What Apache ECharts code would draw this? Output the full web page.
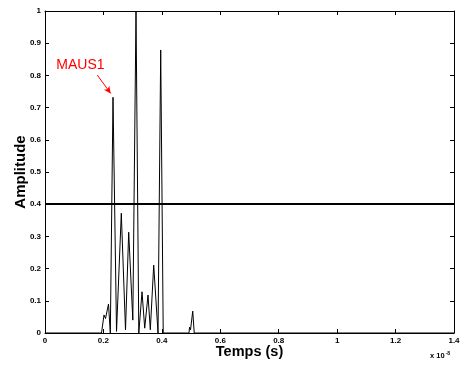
<!DOCTYPE html>
<html>
<head>
<meta charset="utf-8">
<script src="https://cdn.jsdelivr.net/npm/echarts@6/dist/echarts.min.js"></script>
<style>
html,body{margin:0;padding:0;background:#fff;}
#c{width:461px;height:367px;}
</style>
</head>
<body>
<div id="c"></div>
<script>
// time in units of 1e-8 s
var times = [0, 0.1934, 0.2020, 0.2071, 0.2174, 0.2236, 0.2328, 0.2448, 0.2612, 0.2756, 0.2865, 0.3006, 0.3115, 0.3211, 0.3321, 0.3413, 0.3526, 0.3605, 0.3721, 0.3869, 0.3961, 0.4047, 0.4930, 0.4947, 0.4981, 0.5057, 0.5108, 1.4];
var amplitude = [0, 0, 0.056, 0.045, 0.09, 0, 0.732, 0.005, 0.372, 0.01, 0.313, 0.04, 1.0, 0, 0.128, 0.015, 0.118, 0.01, 0.211, 0, 0.879, 0, 0, 0.018, 0.01, 0.068, 0, 0];
var xTicks = [0, 0.2, 0.4, 0.6, 0.8, 1, 1.2, 1.4];
var yTicks = [0, 0.1, 0.2, 0.3, 0.4, 0.5, 0.6, 0.7, 0.8, 0.9, 1];
var threshold = 0.4;
var annotationText = 'MAUS1';
var annotationLabelAt = [0.1212, 0.831];
var arrowFrom = [0.179, 0.801];
var arrowTo = [0.2249, 0.744];

var FONT = 'Liberation Sans, Arial, Helvetica, sans-serif';
var seriesData = times.map(function (t, i) { return [t, amplitude[i]]; });

var chart = echarts.init(document.getElementById('c'), null, {renderer: 'canvas'});
var axisCommon = {
  axisLine: {show: true, onZero: false, lineStyle: {color: '#000', width: 1}},
  axisTick: {show: true, inside: true, length: 4, lineStyle: {color: '#000', width: 1}},
  splitLine: {show: false}
};
chart.setOption({
  animation: false,
  backgroundColor: '#fff',
  grid: {left: 45, right: 7, top: 11, bottom: 34, containLabel: false, outerBoundsMode: 'none'},
  title: {
    text: '{b|x 10}{s|-8}',
    right: 6, top: 346,
    textStyle: {
      rich: {
        b: {fontFamily: FONT, fontWeight: 'bold', fontSize: 7.5, color: '#000'},
        s: {fontFamily: FONT, fontWeight: 'bold', fontSize: 5, color: '#000', verticalAlign: 'top', padding: [0, 0, 5, 1]}
      }
    }
  },
  xAxis: [
    Object.assign({}, axisCommon, {
      type: 'value', min: xTicks[0], max: xTicks[xTicks.length - 1], interval: 0.2,
      position: 'bottom',
      name: 'Temps (s)', nameLocation: 'middle', nameGap: 11, nameMoveOverlap: false,
      nameTextStyle: {fontFamily: FONT, fontWeight: 'bold', fontSize: 14.5, color: '#000'},
      axisLabel: {fontFamily: FONT, fontWeight: 'bold', fontSize: 8, color: '#000', margin: 4,
        formatter: function (v) { return String(+v.toFixed(1)); }}
    }),
    Object.assign({}, axisCommon, {
      type: 'value', min: xTicks[0], max: xTicks[xTicks.length - 1], interval: 0.2,
      position: 'top', axisLabel: {show: false}
    })
  ],
  yAxis: [
    Object.assign({}, axisCommon, {
      type: 'value', min: yTicks[0], max: yTicks[yTicks.length - 1], interval: 0.1,
      position: 'left',
      name: 'Amplitude', nameLocation: 'middle', nameGap: 17, nameRotate: 90, nameMoveOverlap: false,
      nameTextStyle: {fontFamily: FONT, fontWeight: 'bold', fontSize: 15, color: '#000'},
      axisLabel: {fontFamily: FONT, fontWeight: 'bold', fontSize: 8, color: '#000', margin: 4,
        formatter: function (v) { return String(+v.toFixed(1)); }}
    }),
    Object.assign({}, axisCommon, {
      type: 'value', min: yTicks[0], max: yTicks[yTicks.length - 1], interval: 0.1,
      position: 'right', axisLabel: {show: false}
    })
  ],
  series: [{
    type: 'line',
    data: seriesData,
    showSymbol: false,
    symbol: 'none',
    lineStyle: {color: '#000', width: 1},
    clip: true,
    z: 3,
    markLine: {
      silent: true,
      animation: false,
      symbol: ['none', 'none'],
      label: {show: false},
      data: [
        {yAxis: threshold, lineStyle: {color: '#000', width: 2, type: 'solid'}, symbol: 'none'},
        [
          {coord: arrowFrom, symbol: 'none', lineStyle: {color: '#ff0000', width: 1, type: 'solid'}},
          {coord: arrowTo, symbol: 'arrow', symbolSize: [5, 7]}
        ]
      ]
    },
    markPoint: {
      silent: true,
      animation: false,
      symbol: 'circle',
      symbolSize: 0,
      data: [{
        coord: annotationLabelAt,
        label: {show: true, position: 'inside', formatter: annotationText,
          fontFamily: FONT, fontSize: 14, color: '#ff0000'}
      }]
    }
  }]
});
</script>
</body>
</html>
